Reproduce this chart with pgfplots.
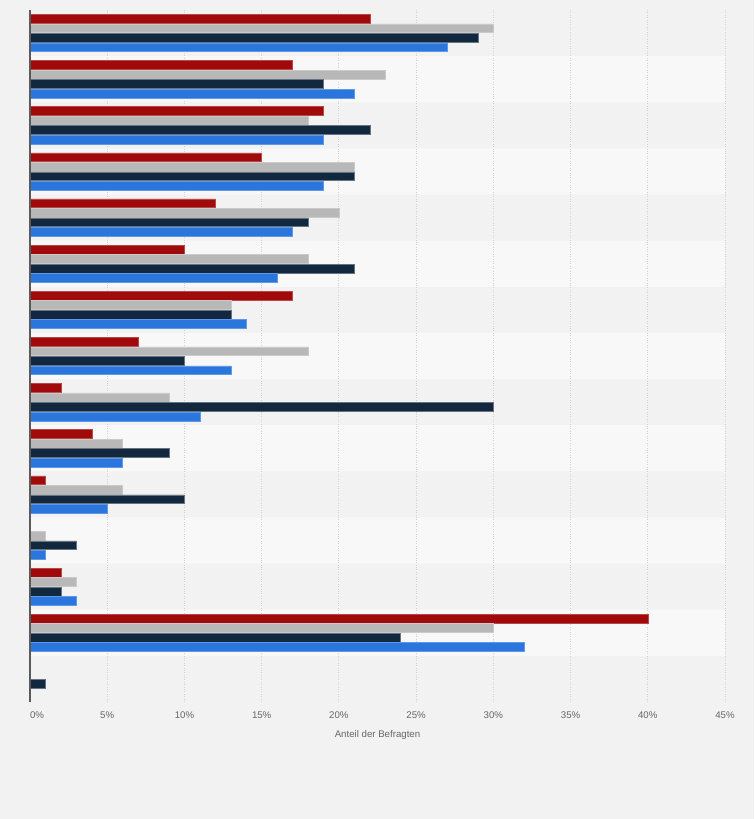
\documentclass[border=0pt]{standalone}
\usepackage{pgfplots}
\pgfplotsset{compat=1.18}
\usepackage{fontspec}
\setmainfont{Liberation Sans}
\definecolor{bg}{HTML}{F2F2F2}
\definecolor{stripe}{HTML}{F8F8F8}
\definecolor{cred}{HTML}{A10A0A}
\definecolor{cgray}{HTML}{B8B8B8}
\definecolor{cnavy}{HTML}{12283E}
\definecolor{cblue}{HTML}{2A76DC}
\definecolor{txt}{HTML}{666666}
\definecolor{axcol}{HTML}{5A5A5A}
\definecolor{gridc}{HTML}{D2D2D2}
\begin{document}
\begin{tikzpicture}
\begin{axis}[
  scale only axis, width=695bp, height=692bp,
  set layers,
  xmin=0, xmax=45, ymin=0.5, ymax=15.5, y dir=reverse,
  axis lines*=left,
  x axis line style={draw=none},
  y axis line style={draw=none},
  ytick=\empty,
  xtick={0,5,...,45},
  xticklabels={{\makebox[0pt][l]{0\%}},5\%,10\%,15\%,20\%,25\%,30\%,35\%,40\%,45\%},
  major tick length=0pt,
  xmajorgrids,
  grid style={gridc, dotted, line width=0.8bp},
  tick label style={font=\fontsize{9.7}{11}\selectfont, text=txt},
  xticklabel style={yshift=-6bp},
  xlabel={Anteil der Befragten},
  xlabel style={at={(axis description cs:0.5,0)}, anchor=center, yshift=-33bp, font=\fontsize{9.7}{11}\selectfont, text=txt},
  clip=false,
  every axis plot/.append style={line width=0.5bp},
]
\begin{pgfonlayer}{axis background}
\fill[bg] (axis description cs:-0.043165,-0.169075) rectangle (axis description cs:1.041727,1.014451);
\end{pgfonlayer}
\addplot[on layer=axis background, xbar, bar width=1, bar shift=0, fill=stripe, draw=none]
  coordinates {(45,2) (45,4) (45,6) (45,8) (45,10) (45,12) (45,14)};
\addplot[xbar, bar width=0.19, bar shift=-0.309, fill=cred, draw=cred!75!white] coordinates {
 (22,1) (17,2) (19,3) (15,4) (12,5) (10,6) (17,7) (7,8) (2,9) (4,10) (1,11) (0,12) (2,13) (40,14) (0,15)};
\addplot[xbar, bar width=0.19, bar shift=-0.103, fill=cgray, draw=cgray!75!white] coordinates {
 (30,1) (23,2) (18,3) (21,4) (20,5) (18,6) (13,7) (18,8) (9,9) (6,10) (6,11) (1,12) (3,13) (30,14) (0,15)};
\addplot[xbar, bar width=0.19, bar shift=0.103, fill=cnavy, draw=cnavy!65!white] coordinates {
 (29,1) (19,2) (22,3) (21,4) (18,5) (21,6) (13,7) (10,8) (30,9) (9,10) (10,11) (3,12) (2,13) (24,14) (1,15)};
\addplot[xbar, bar width=0.19, bar shift=0.309, fill=cblue, draw=cblue!75!white] coordinates {
 (27,1) (21,2) (19,3) (19,4) (17,5) (16,6) (14,7) (13,8) (11,9) (6,10) (5,11) (1,12) (3,13) (32,14) (0,15)};
\draw[axcol, line width=1.3bp] (axis description cs:0,0) -- (axis description cs:0,1);
\end{axis}
\end{tikzpicture}
\end{document}
